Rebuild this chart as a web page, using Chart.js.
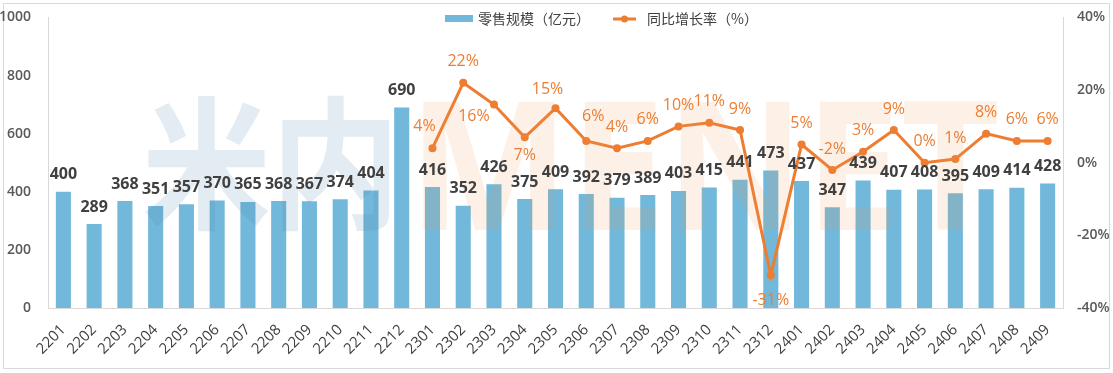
<!DOCTYPE html>
<html>
<head>
<meta charset="utf-8">
<script src="https://cdn.jsdelivr.net/npm/chart.js@4"></script>
<style>
  html, body { margin: 0; padding: 0; background: #fff; }
  #wrap { position: relative; width: 1113px; height: 373px; }
</style>
</head>
<body>
<div id="wrap"><canvas id="grafico" width="1113" height="373"></canvas></div>
<script>
// dados
const categorias = ['2201','2202','2203','2204','2205','2206','2207','2208','2209','2210','2211','2212',
  '2301','2302','2303','2304','2305','2306','2307','2308','2309','2310','2311','2312',
  '2401','2402','2403','2404','2405','2406','2407','2408','2409'];
const vendas = [400,289,368,351,357,370,365,368,367,374,404,690,
  416,352,426,375,409,392,379,389,403,415,441,473,
  437,347,439,407,408,395,409,414,428];
const crescimento = [null,null,null,null,null,null,null,null,null,null,null,null,
  4,22,16,7,15,6,4,6,10,11,9,-31,
  5,-2,3,9,0,1,8,6,6];
const ticksEsq = [0,200,400,600,800,1000];
const ticksDir = [-40,-20,0,20,40];

const FONTE = '"Open Sans", "Noto Sans CJK SC", sans-serif';
const FONTE_CJK = '"Noto Sans CJK SC", "Open Sans", sans-serif';
const AZUL = '#72B8DA';
const LARANJA = '#ED7D31';

// deslocamentos manuais dos rótulos da linha (como no Excel)
const ajusteRotulo = { 12: [-8, -22], 14: [-20, 12], 15: [0, 18], 16: [-8, -19], 17: [7, -24], 23: [0, 25] };

// plugin: moldura, marca d'água, legenda e rótulos
const pluginRotulos = {
  id: 'rotulos',
  beforeDraw(chart) {
    const ctx = chart.ctx;
    ctx.save();
    ctx.fillStyle = '#fff';
    ctx.fillRect(0, 0, chart.width, chart.height);
    ctx.strokeStyle = '#d9d9d9';
    ctx.lineWidth = 1;
    ctx.strokeRect(3.5, 3.5, 1106, 365);
    ctx.restore();
  },
  afterDatasetsDraw(chart) {
    const ctx = chart.ctx;
    // marca d'água
    ctx.save();
    ctx.textBaseline = 'alphabetic';
    ctx.font = 'bold 130px ' + FONTE_CJK;
    let w = ctx.measureText('米内').width;
    ctx.translate(142, 218);
    ctx.scale(258 / w, 1.1);
    ctx.fillStyle = 'rgba(70,130,165,0.15)';
    ctx.fillText('米内', 0, 0);
    ctx.restore();
    ctx.save();
    ctx.font = 'bold 180px ' + FONTE;
    w = ctx.measureText('MENET').width;
    ctx.translate(408, 230);
    ctx.scale(592 / w, 1);
    ctx.fillStyle = 'rgba(240,150,80,0.14)';
    ctx.fillText('MENET', 0, 0);
    ctx.restore();

    // rótulos das barras
    ctx.save();
    ctx.textAlign = 'center';
    ctx.textBaseline = 'middle';
    ctx.font = 'bold 16px ' + FONTE;
    ctx.fillStyle = '#404040';
    chart.getDatasetMeta(0).data.forEach((bar, i) => {
      ctx.fillText(String(vendas[i]), bar.x, bar.y - 17);
    });
    // rótulos da linha
    ctx.font = '16px ' + FONTE;
    ctx.fillStyle = LARANJA;
    chart.getDatasetMeta(1).data.forEach((pt, i) => {
      if (crescimento[i] === null) return;
      const aj = ajusteRotulo[i] || [0, -21];
      ctx.fillText(crescimento[i] + '%', pt.x + aj[0], pt.y + aj[1]);
    });
    ctx.restore();

    // legenda
    ctx.save();
    ctx.fillStyle = AZUL;
    ctx.fillRect(445, 15, 28, 7);
    ctx.font = '14px ' + FONTE_CJK;
    ctx.fillStyle = '#404040';
    ctx.textBaseline = 'middle';
    ctx.fillText(chart.data.datasets[0].label, 478, 19);
    ctx.strokeStyle = LARANJA;
    ctx.lineWidth = 3;
    ctx.beginPath();
    ctx.moveTo(613, 19);
    ctx.lineTo(636, 19);
    ctx.stroke();
    ctx.fillStyle = LARANJA;
    ctx.beginPath();
    ctx.arc(624.5, 19, 3.5, 0, Math.PI * 2);
    ctx.fill();
    ctx.fillStyle = '#404040';
    ctx.fillText(chart.data.datasets[1].label, 647, 19);
    ctx.restore();
  }
};

new Chart(document.getElementById('grafico'), {
  data: {
    labels: categorias,
    datasets: [
      {
        type: 'bar',
        label: '零售规模（亿元）',
        data: vendas,
        backgroundColor: AZUL,
        barPercentage: 0.49,
        categoryPercentage: 1,
        yAxisID: 'y',
        order: 2
      },
      {
        type: 'line',
        label: '同比增长率（%）',
        data: crescimento,
        borderColor: LARANJA,
        backgroundColor: LARANJA,
        borderWidth: 3,
        pointRadius: 4,
        pointBorderWidth: 0,
        pointBackgroundColor: LARANJA,
        tension: 0,
        spanGaps: false,
        yAxisID: 'y1',
        order: 1
      }
    ]
  },
  options: {
    responsive: false,
    animation: false,
    layout: { padding: { top: 13, left: 0, right: 0, bottom: 0 } },
    plugins: {
      legend: { display: false },
      tooltip: { enabled: false }
    },
    scales: {
      x: {
        offset: true,
        grid: { display: false },
        border: { display: true, color: '#d9d9d9' },
        ticks: {
          autoSkip: false,
          minRotation: 45,
          maxRotation: 45,
          color: '#404040',
          font: { family: FONTE, size: 15 },
          padding: 5
        },
        afterFit(scale) { scale.height = 65; }
      },
      y: {
        position: 'left',
        min: 0,
        max: 1000,
        grid: { display: false },
        border: { display: true, color: '#d9d9d9' },
        afterBuildTicks(scale) { scale.ticks = ticksEsq.map(v => ({ value: v })); },
        ticks: {
          color: '#595959',
          font: { family: FONTE, size: 14, weight: '600' },
          padding: 9,
          callback: v => String(v)
        },
        afterFit(scale) { scale.width = 48; }
      },
      y1: {
        position: 'right',
        min: -40,
        max: 40,
        grid: { display: false, drawOnChartArea: false },
        border: { display: true, color: '#d9d9d9' },
        afterBuildTicks(scale) { scale.ticks = ticksDir.map(v => ({ value: v })); },
        ticks: {
          color: '#595959',
          font: { family: FONTE, size: 14, weight: '600' },
          padding: 6,
          callback: v => v + '%'
        },
        afterFit(scale) { scale.width = 50; }
      }
    }
  },
  plugins: [pluginRotulos]
});
</script>
</body>
</html>
